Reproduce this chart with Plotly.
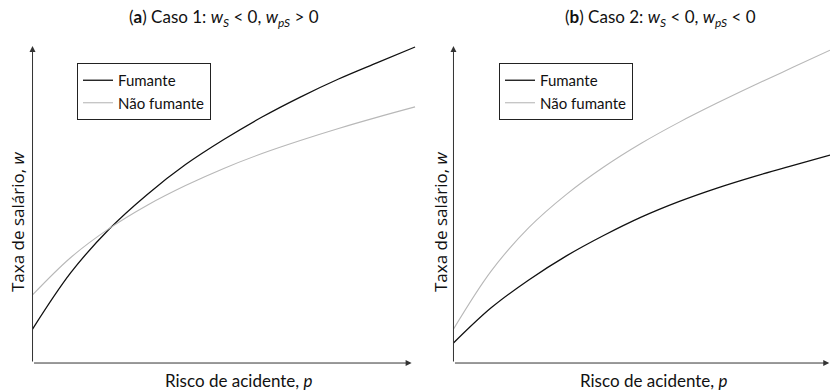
import plotly.graph_objects as go

# Panel (a): Caso 1
risk_a = [0, 1, 2, 3, 4, 5, 6, 7, 8, 9, 10]
smoker_a = [1.07, 2.85, 4.22, 5.32, 6.26, 7.05, 7.76, 8.39, 8.96, 9.47, 9.97]
nonsmoker_a = [2.15, 3.33, 4.24, 4.98, 5.60, 6.14, 6.61, 7.02, 7.40, 7.75, 8.08]

# Panel (b): Caso 2
risk_b = [0, 1, 2, 3, 4, 5, 6, 7, 8, 9, 10]
smoker_b = [0.63, 1.74, 2.62, 3.38, 4.03, 4.61, 5.10, 5.52, 5.89, 6.23, 6.56]
nonsmoker_b = [1.07, 2.90, 4.27, 5.32, 6.19, 6.94, 7.60, 8.20, 8.77, 9.32, 9.87]

series_names = ["Fumante", "Não fumante"]
titles = ["(<b>a</b>) Caso 1: <i>w<sub>S</sub></i> &lt; 0, <i>w<sub>pS</sub></i> &gt; 0",
          "(<b>b</b>) Caso 2: <i>w<sub>S</sub></i> &lt; 0, <i>w<sub>pS</sub></i> &lt; 0"]
xlabel = "Risco de acidente, <i>p</i>"
ylabel = "Taxa de salário, <i>w</i>"

FONT = "Lato"
YFONT = "Open Sans"
BLACK = "#111111"
GRAY = "#b8b8b8"

fig = go.Figure()

fig.add_trace(go.Scatter(x=risk_a, y=smoker_a, mode="lines", name=series_names[0],
                         line=dict(color=BLACK, width=1.3, shape="spline"),
                         xaxis="x", yaxis="y", legend="legend"))
fig.add_trace(go.Scatter(x=risk_a, y=nonsmoker_a, mode="lines", name=series_names[1],
                         line=dict(color=GRAY, width=1.1, shape="spline"),
                         xaxis="x", yaxis="y", legend="legend"))
fig.add_trace(go.Scatter(x=risk_b, y=smoker_b, mode="lines", name=series_names[0],
                         line=dict(color=BLACK, width=1.3, shape="spline"),
                         xaxis="x2", yaxis="y2", legend="legend2"))
fig.add_trace(go.Scatter(x=risk_b, y=nonsmoker_b, mode="lines", name=series_names[1],
                         line=dict(color=GRAY, width=1.1, shape="spline"),
                         xaxis="x2", yaxis="y2", legend="legend2"))

hidden = dict(showgrid=False, zeroline=False, showline=False, showticklabels=False, ticks="")

annotations = []
for xr, yr, xtip, xlab_x, ylab_x in [
    ("x", "y", 9.91, 239 / 830, 17 / 830),
    ("x2", "y2", 9.98, 654 / 830, 440 / 830),
]:
    # y axis arrow
    annotations.append(dict(x=0, y=10.0, ax=0, ay=0, xref=xr, yref=yr, axref=xr, ayref=yr,
                            showarrow=True, arrowhead=2, arrowsize=1.2, arrowwidth=1,
                            arrowcolor="#333333", text="", standoff=0, startstandoff=0))
    # x axis arrow
    annotations.append(dict(x=xtip, y=0, ax=0, ay=0, xref=xr, yref=yr, axref=xr, ayref=yr,
                            showarrow=True, arrowhead=2, arrowsize=1.2, arrowwidth=1,
                            arrowcolor="#333333", text="", standoff=0, startstandoff=0))
    annotations.append(dict(x=xlab_x, y=1 - 380 / 391, xref="paper", yref="paper",
                            text=xlabel, showarrow=False,
                            font=dict(family=FONT, size=17, color="#111111"),
                            xanchor="center", yanchor="middle"))
    annotations.append(dict(x=ylab_x, y=1 - 222 / 391, xref="paper", yref="paper",
                            text=ylabel, showarrow=False, textangle=-90,
                            font=dict(family=YFONT, size=17, color="#111111"),
                            xanchor="center", yanchor="middle"))

for t, tx in zip(titles, [224 / 830, 660 / 830]):
    annotations.append(dict(x=tx, y=1 - 18 / 391, xref="paper", yref="paper",
                            text=t, showarrow=False,
                            font=dict(family=FONT, size=17, color="#111111"),
                            xanchor="center", yanchor="middle"))

legend_style = dict(xref="paper", yref="paper", xanchor="left", yanchor="top",
                    bgcolor="white", bordercolor="#222222", borderwidth=1,
                    font=dict(family=FONT, size=15, color="#111111"),
                    tracegroupgap=0, itemwidth=30, entrywidth=120, entrywidthmode="pixels")

fig.update_layout(
    width=830, height=391,
    margin=dict(l=0, r=0, t=0, b=0),
    paper_bgcolor="white", plot_bgcolor="white",
    showlegend=True,
    xaxis=dict(domain=[28.7 / 830, 422.7 / 830], range=[-0.1, 10.2], anchor="y", **hidden),
    yaxis=dict(domain=[1 - 366.2 / 391, 1 - 39.7 / 391], range=[-0.1, 10.2], anchor="x", **hidden),
    xaxis2=dict(domain=[449.7 / 830, 1.0], range=[-0.1, 10.0], anchor="y2", **hidden),
    yaxis2=dict(domain=[1 - 366.2 / 391, 1 - 39.7 / 391], range=[-0.1, 10.2], anchor="x2", **hidden),
    legend=dict(x=77 / 830, y=1 - 63 / 391, **legend_style),
    legend2=dict(x=499 / 830, y=1 - 63 / 391, **legend_style),
    annotations=annotations,
)

fig.write_html("out.html")
